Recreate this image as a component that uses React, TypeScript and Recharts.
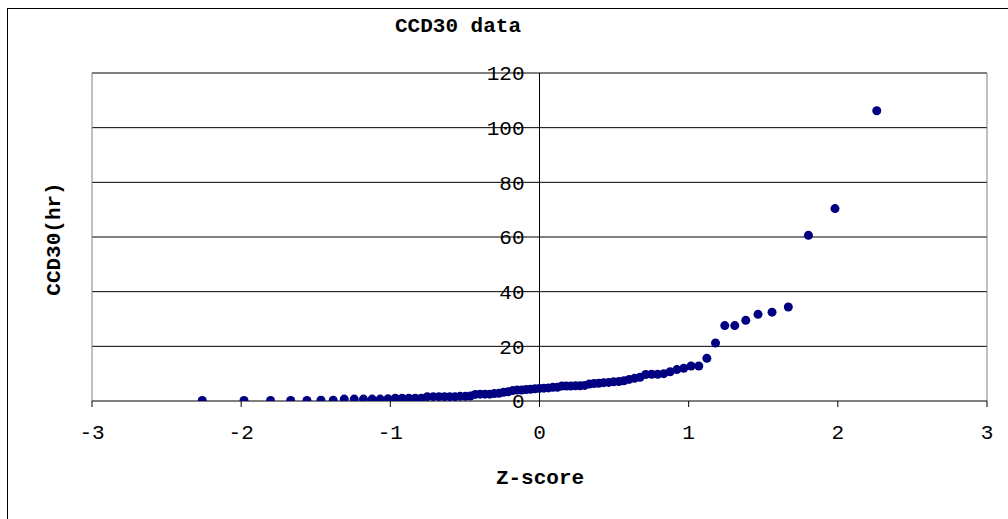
import React from "react";
import {
  ScatterChart,
  Scatter,
  XAxis,
  YAxis,
  ReferenceLine,
  ReferenceDot,
} from "recharts";

// Normal scores (Z-score) of the 83 ranked observations
const zScores = [
  -2.261, -1.981, -1.803, -1.668, -1.559, -1.465, -1.383, -1.309, -1.242, -1.18,
  -1.122, -1.068, -1.016, -0.967, -0.921, -0.876, -0.833, -0.792, -0.752, -0.712,
  -0.674, -0.637, -0.601, -0.566, -0.532, -0.497, -0.464, -0.431, -0.398, -0.366,
  -0.334, -0.303, -0.272, -0.241, -0.21, -0.18, -0.15, -0.12, -0.09, -0.06,
  -0.03, 0, 0.03, 0.06, 0.09, 0.12, 0.15, 0.18, 0.21, 0.241,
  0.272, 0.303, 0.334, 0.366, 0.398, 0.431, 0.464, 0.497, 0.532, 0.566,
  0.601, 0.637, 0.674, 0.712, 0.752, 0.792, 0.833, 0.876, 0.921, 0.967,
  1.016, 1.068, 1.122, 1.18, 1.242, 1.309, 1.383, 1.465, 1.559, 1.668,
  1.803, 1.981, 2.261,
];

// CCD30 (hr), sorted
const ccd30Hours = [
  0.2, 0.2, 0.2, 0.2, 0.2, 0.3, 0.3, 0.7, 0.7, 0.7,
  0.7, 0.7, 0.8, 1.0, 1.0, 1.0, 1.0, 1.0, 1.6, 1.6,
  1.6, 1.6, 1.6, 1.6, 1.7, 1.7, 1.8, 2.4, 2.5, 2.5,
  2.5, 2.7, 2.8, 3.2, 3.4, 3.8, 4.0, 4.0, 4.2, 4.3,
  4.5, 4.6, 4.7, 4.8, 5.0, 5.0, 5.5, 5.5, 5.5, 5.6,
  5.6, 5.7, 6.2, 6.4, 6.5, 6.7, 6.8, 7.0, 7.1, 7.4,
  7.9, 8.3, 8.7, 9.7, 9.8, 9.8, 10.0, 10.7, 11.5, 12.0,
  12.8, 12.8, 15.6, 21.2, 27.6, 27.6, 29.5, 31.7, 32.5, 34.4,
  60.6, 70.4, 106.2,
];

const xTickValues = [-3, -2, -1, 0, 1, 2, 3];
const yTickValues = [0, 20, 40, 60, 80, 100, 120];
const yGridValues = [20, 40, 60, 80, 100, 120];

const chartTitle = "CCD30 data";
const xTitle = "Z-score";
const yTitle = "CCD30(hr)";

const MONO = '"Liberation Mono", "Courier New", "DejaVu Sans Mono", monospace';

const points = zScores.map((z, i) => ({ z, hours: ccd30Hours[i] }));

const Marker = (props: any) => {
  const { cx, cy } = props;
  if (cx == null || cy == null) return null;
  return <circle cx={cx} cy={cy} r={4.5} fill="#000080" stroke="none" />;
};

export default function App() {
  return (
    <div
      style={{
        position: "absolute",
        left: 0,
        top: 0,
        width: 1008,
        height: 519,
        background: "#fff",
        overflow: "hidden",
      }}
    >
      <div
        style={{
          position: "absolute",
          left: 7,
          top: 8,
          width: 1020,
          height: 530,
          borderTop: "1px solid #000",
          borderLeft: "1px solid #000",
        }}
      />
      <ScatterChart
        width={1008}
        height={519}
        margin={{ top: 73, right: 21, bottom: 88, left: 92 }}
        style={{ position: "absolute", left: 0, top: 0 }}
      >
        <XAxis
          type="number"
          dataKey="z"
          domain={[-3, 3]}
          ticks={xTickValues}
          allowDataOverflow
          height={30}
          axisLine={{ stroke: "#000", strokeWidth: 1 }}
          tickLine={{ stroke: "#000" }}
          tickSize={6}
          tickMargin={17}
          tick={{ fill: "#000", fontSize: 21, fontFamily: MONO }}
        />
        <YAxis
          type="number"
          dataKey="hours"
          domain={[0, 120]}
          ticks={yTickValues}
          allowDataOverflow
          hide
        />
        {yGridValues.map((v) => (
          <ReferenceLine
            key={"g" + v}
            y={v}
            stroke="#000"
            strokeWidth={1}
            ifOverflow="visible"
          />
        ))}
        <ReferenceLine x={-3} stroke="#808080" strokeWidth={1} ifOverflow="visible" />
        <ReferenceLine x={3} stroke="#808080" strokeWidth={1} ifOverflow="visible" />
        <ReferenceLine x={0} stroke="#000" strokeWidth={1} ifOverflow="visible" />
        {yTickValues.map((v) => (
          <ReferenceDot
            key={"t" + v}
            x={0}
            y={v}
            r={1}
            fill="none"
            stroke="none"
            ifOverflow="visible"
            label={{
              value: String(v),
              position: "left",
              offset: 14,
              fill: "#000",
              fontSize: 21,
              fontFamily: MONO,
            }}
          />
        ))}
        <Scatter
          data={points}
          shape={<Marker />}
          isAnimationActive={false}
        />
      </ScatterChart>
      <svg
        width={1008}
        height={519}
        style={{ position: "absolute", left: 0, top: 0, pointerEvents: "none" }}
      >
        <text
          x={458}
          y={32}
          textAnchor="middle"
          fontFamily={MONO}
          fontWeight="bold"
          fontSize={21}
          fill="#000"
        >
          {chartTitle}
        </text>
        <text
          x={540}
          y={484}
          textAnchor="middle"
          fontFamily={MONO}
          fontWeight="bold"
          fontSize={21}
          fill="#000"
        >
          {xTitle}
        </text>
        <text
          x={0}
          y={0}
          transform="translate(60,239) rotate(-90)"
          textAnchor="middle"
          fontFamily={MONO}
          fontWeight="bold"
          fontSize={21}
          fill="#000"
        >
          {yTitle}
        </text>
      </svg>
    </div>
  );
}
